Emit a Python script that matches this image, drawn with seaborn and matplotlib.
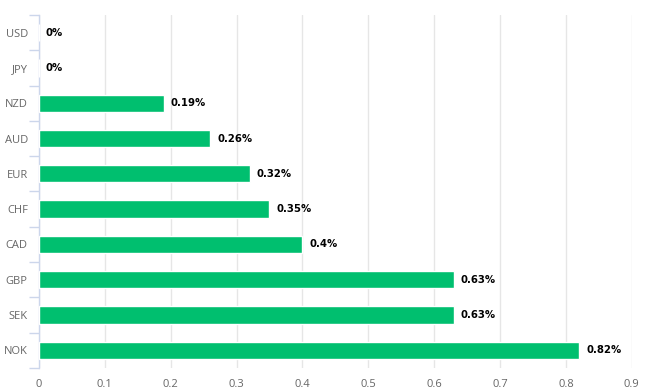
import numpy as np
import pandas as pd
import matplotlib
matplotlib.use('Agg')
import matplotlib.pyplot as plt
import seaborn as sns

currencies = ['USD', 'JPY', 'NZD', 'AUD', 'EUR', 'CHF', 'CAD', 'GBP', 'SEK', 'NOK']
values = [0, 0, 0.19, 0.26, 0.32, 0.35, 0.40, 0.63, 0.63, 0.82]
labels = ['0%', '0%', '0.19%', '0.26%', '0.32%', '0.35%', '0.4%', '0.63%', '0.63%', '0.82%']
xticks = [0, 0.1, 0.2, 0.3, 0.4, 0.5, 0.6, 0.7, 0.8, 0.9]

df = pd.DataFrame({'currency': currencies, 'value': values})

sns.set_style('white')
plt.rcParams['font.family'] = ['Open Sans', 'DejaVu Sans']

fig = plt.figure(figsize=(6.48, 3.92), dpi=100)
ax = fig.add_axes([0.060, 0.061, 0.915, 0.901])

sns.barplot(data=df, x='value', y='currency', color='#00bf6f', width=0.49,
            saturation=1, ax=ax, zorder=3)

# value labels at the bar ends
for i, (v, t) in enumerate(zip(values, labels)):
    ax.annotate(t, (v, i), xytext=(5, 0), textcoords='offset points',
                va='center', ha='left', fontsize=7.3, fontweight='bold',
                family='DejaVu Sans', color='#000000', zorder=4)

ax.set_xlim(0, 0.9)
ax.set_ylim(len(currencies) - 0.5, -0.5)
ax.set_xticks(xticks)
ax.set_xticklabels([f'{x:g}' for x in xticks])
ax.set_xlabel('')
ax.set_ylabel('')

ax.grid(axis='x', color='#e6e6e6', linewidth=1, zorder=0)
ax.grid(axis='y', visible=False)

for s in ['top', 'right', 'bottom']:
    ax.spines[s].set_visible(False)
ax.spines['left'].set_color('#ccd6eb')
ax.spines['left'].set_linewidth(1)

ax.tick_params(axis='x', length=0, labelsize=8, labelcolor='#666666', pad=8)
ax.tick_params(axis='y', which='major', left=True, length=0, labelsize=8,
               labelcolor='#666666', pad=8)
ax.set_yticks(np.arange(-0.5, len(currencies), 1), minor=True)
ax.tick_params(axis='y', which='minor', left=True, length=7, color='#ccd6eb', width=1)

fig.savefig('out.png', dpi=100)
